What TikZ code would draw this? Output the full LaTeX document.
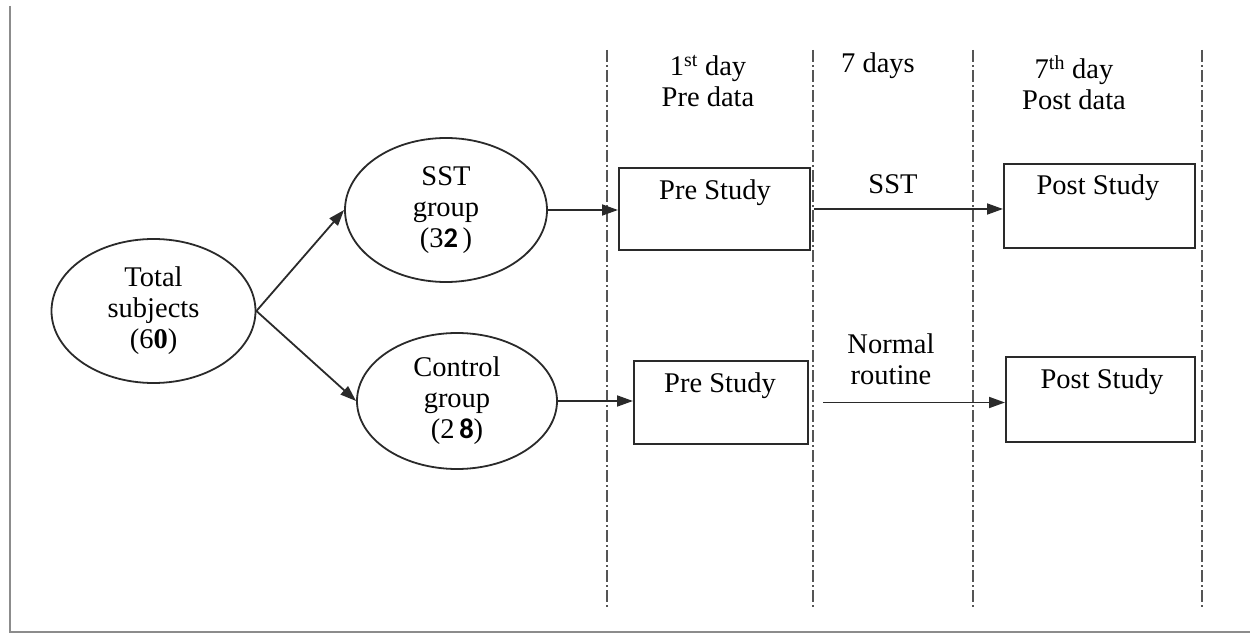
\documentclass[tikz,border=0pt]{standalone}
\usepackage{fontspec}
\setmainfont{Liberation Serif}
\newfontfamily\calfont{Carlito}
\usetikzlibrary{arrows.meta,shapes.geometric}
\definecolor{linec}{HTML}{2A2A2A}
\definecolor{divc}{HTML}{555555}
\definecolor{framec}{HTML}{8C8C8C}
\tikzset{
  every node/.style={font=\fontsize{28.5bp}{31bp}\selectfont},
  oval/.style={draw=linec, line width=1.8bp, ellipse, inner sep=0pt, align=center},
  box/.style={draw=linec, line width=2bp, inner sep=0pt},
  lbl/.style={inner sep=0pt, align=center},
  conn/.style={draw=linec, line width=1.8bp, -{Triangle[length=16bp,width=11bp]}},
  divider/.style={draw=divc, line width=1.7bp, dash pattern=on 12bp off 3bp on 2bp off 3bp},
  frameline/.style={draw=framec, line width=2bp},
}
\begin{document}
\begin{tikzpicture}[x=1bp,y=-1bp]
\useasboundingbox (0,0) rectangle (1250,634);
% frame
\coordinate (f1) at (10,6);
\coordinate (f2) at (10,632);
\coordinate (f3) at (1250,632);
\draw[frameline] (f1) -- (f2) -- (f3);
% dividers
\coordinate (d1t) at (607,50);  \coordinate (d1b) at (607,608);
\coordinate (d2t) at (813,50);  \coordinate (d2b) at (813,608);
\coordinate (d3t) at (973,50);  \coordinate (d3b) at (973,608);
\coordinate (d4t) at (1202,50); \coordinate (d4b) at (1202,608);
\draw[divider] (d1t) -- (d1b);
\draw[divider] (d2t) -- (d2b);
\draw[divider] (d3t) -- (d3b);
\draw[divider] (d4t) -- (d4b);
% headers
\node[lbl] (h1) at (708,81) {1\textsuperscript{st} day\\Pre data};
\node[lbl] (h2) at (878,66) {7 days};
\node[lbl] (h3) at (1074,83) {7\textsuperscript{th} day\\Post data};
% ellipses
\node[oval, minimum width=204bp, minimum height=144bp] (total) at (153.5,311) {Total\\subjects\\(6{\bfseries 0})};
\node[oval, minimum width=202bp, minimum height=144bp] (sst) at (446,210) {SST\\group\\(3{\calfont\bfseries 2}\,)};
\node[oval, minimum width=200bp, minimum height=136bp] (ctrl) at (457,401) {Control\\group\\(2\,{\calfont\bfseries 8})};
% boxes
\node[box, minimum width=191bp, minimum height=82bp] (pre1) at (714.5,209) {};
\node[box, minimum width=174bp, minimum height=83bp] (pre2) at (721,402.5) {};
\node[box, minimum width=191bp, minimum height=84bp] (post1) at (1099.5,206) {};
\node[box, minimum width=189bp, minimum height=85bp] (post2) at (1100.5,399.5) {};
\node[lbl] (pre1t) at (715,193) {Pre Study};
\node[lbl] (pre2t) at (720,386) {Pre Study};
\node[lbl] (post1t) at (1098,188) {Post Study};
\node[lbl] (post2t) at (1102,382) {Post Study};
% arrow labels
\node[lbl] (sstl) at (893,184) {SST};
\node[lbl] (norml) at (891,359) {Normal\\routine};
% connectors
\draw[conn] (total.east) -- (sst.west);
\draw[conn] (total.east) -- (ctrl.west);
\draw[conn] (sst.east) -- (sst.east -| pre1.west);
\draw[conn] (ctrl.east) -- (ctrl.east -| pre2.west);
\draw[conn, shorten <=3bp] (pre1.east) -- (pre1.east -| post1.west);
\draw[conn, shorten <=14bp] (pre2.east) -- (pre2.east -| post2.west);
\end{tikzpicture}
\end{document}
